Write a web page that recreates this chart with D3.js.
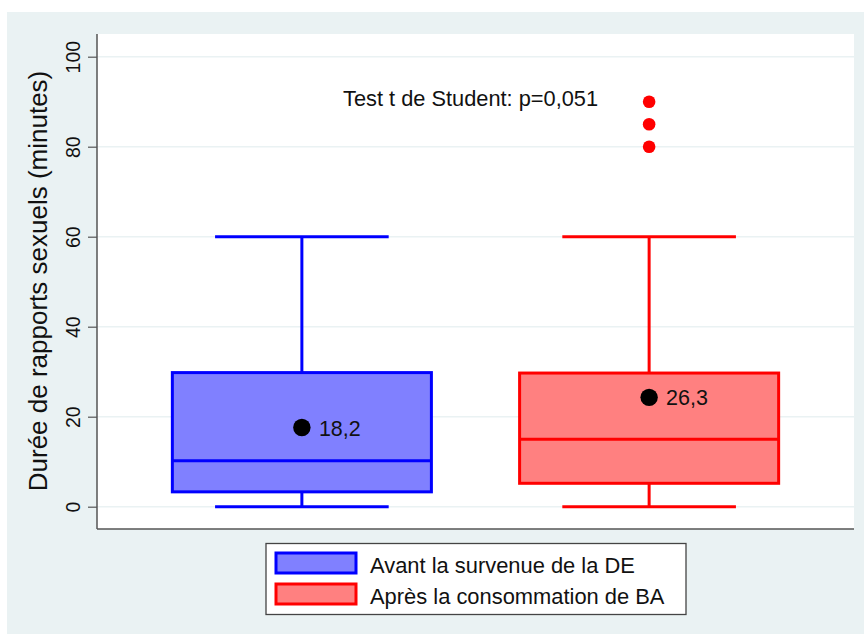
<!DOCTYPE html>
<html><head><meta charset="utf-8">
<script src="https://cdn.jsdelivr.net/npm/d3@7"></script>
<style>body{margin:0;background:#fff}svg{display:block}text{font-family:"Liberation Sans",Arial,sans-serif;fill:#111}</style>
</head><body><svg id="c" width="864" height="634"></svg>
<script>
const groups = ["Avant la survenue de la DE", "Après la consommation de BA"];
const whiskerLow = [0, 0];
const q1 = [3.3, 5.2];
const median = [10.2, 15];
const q3 = [29.8, 29.7];
const whiskerHigh = [60, 60];
const meanPos = [17.6, 24.3];
const meanLabels = ["18,2", "26,3"];
const outliers = [[], [80, 85, 90]];
const yTicks = [0, 20, 40, 60, 80, 100];
const annotation = "Test t de Student: p=0,051";
const yTitle = "Durée de rapports sexuels (minutes)";
const strokes = ["#0000ff", "#ff0000"];
const fills = ["#8080ff", "#ff8080"];

const svg = d3.select("#c");
const L = 97, R = 854, T = 34, B = 529;
svg.append("rect").attr("x", 7).attr("y", 12).attr("width", 857).attr("height", 622).attr("fill", "#eaf2f3");
svg.append("rect").attr("x", L).attr("y", T).attr("width", R - L).attr("height", B - T).attr("fill", "#fff");

const y = d3.scaleLinear().domain([0, 100]).range([506.7, 56.7]);
const x = d3.scalePoint().domain(groups).range([L, R]).padding(0.59);
const step = x.step();
const boxW = step * 0.746, capW = step * 0.5;

// grid
svg.append("g").selectAll("line").data(yTicks).join("line")
  .attr("x1", L).attr("x2", R).attr("y1", d => y(d)).attr("y2", d => y(d))
  .attr("stroke", "#eaf2f3").attr("stroke-width", 1.5);

// y axis
const ya = svg.append("g").attr("transform", `translate(${L},0)`)
  .call(d3.axisLeft(y).tickValues(yTicks).tickSize(9).tickPadding(8));
ya.select(".domain").remove();
ya.selectAll(".tick line").attr("stroke", "#555").attr("stroke-width", 1.2);
ya.selectAll(".tick text").attr("font-size", 19.5).attr("fill", "#111")
  .attr("text-anchor", "middle").attr("dy", null).attr("x", null)
  .attr("transform", "translate(-17,0) rotate(-90)");
svg.append("line").attr("x1", L).attr("x2", L).attr("y1", T).attr("y2", B).attr("stroke", "#555").attr("stroke-width", 1.5);
svg.append("line").attr("x1", L).attr("x2", R).attr("y1", B).attr("y2", B).attr("stroke", "#555").attr("stroke-width", 1.5);

svg.append("text").attr("transform", "translate(47,281) rotate(-90)").attr("text-anchor", "middle")
  .attr("font-size", 26).text(yTitle);

// boxes
groups.forEach((g, i) => {
  const cx = x(g);
  const G = svg.append("g");
  const st = strokes[i];
  G.append("line").attr("x1", cx).attr("x2", cx).attr("y1", y(q3[i])).attr("y2", y(whiskerHigh[i])).attr("stroke", st).attr("stroke-width", 3);
  G.append("line").attr("x1", cx).attr("x2", cx).attr("y1", y(q1[i])).attr("y2", y(whiskerLow[i])).attr("stroke", st).attr("stroke-width", 3);
  G.append("line").attr("x1", cx - capW / 2).attr("x2", cx + capW / 2).attr("y1", y(whiskerHigh[i])).attr("y2", y(whiskerHigh[i])).attr("stroke", st).attr("stroke-width", 3);
  G.append("line").attr("x1", cx - capW / 2).attr("x2", cx + capW / 2).attr("y1", y(whiskerLow[i])).attr("y2", y(whiskerLow[i])).attr("stroke", st).attr("stroke-width", 3);
  G.append("rect").attr("x", cx - boxW / 2).attr("width", boxW).attr("y", y(q3[i])).attr("height", y(q1[i]) - y(q3[i]))
    .attr("fill", fills[i]).attr("stroke", st).attr("stroke-width", 3);
  G.append("line").attr("x1", cx - boxW / 2).attr("x2", cx + boxW / 2).attr("y1", y(median[i])).attr("y2", y(median[i])).attr("stroke", st).attr("stroke-width", 3);
  G.selectAll("circle.o").data(outliers[i]).join("circle").attr("class", "o")
    .attr("cx", cx).attr("cy", d => y(d)).attr("r", 6.3).attr("fill", st);
  G.append("circle").attr("cx", cx).attr("cy", y(meanPos[i])).attr("r", 8.7).attr("fill", "#000");
  G.append("text").attr("x", cx + 17).attr("y", y(meanPos[i]) + 8).attr("font-size", 21.5).text(meanLabels[i]);
});

svg.append("text").attr("x", 343).attr("y", 106).attr("font-size", 21.8).text(annotation);

// legend
const lg = svg.append("g");
lg.append("rect").attr("x", 266).attr("y", 543.5).attr("width", 420).attr("height", 71).attr("fill", "#fff").attr("stroke", "#444").attr("stroke-width", 1.3);
const legY = [553, 584];
groups.forEach((g, i) => {
  lg.append("rect").attr("x", 276).attr("y", legY[i]).attr("width", 80).attr("height", 20)
    .attr("fill", fills[i]).attr("stroke", strokes[i]).attr("stroke-width", 3);
  lg.append("text").attr("x", 370).attr("y", legY[i] + 20).attr("font-size", 21.9).text(g);
});
</script></body></html>
